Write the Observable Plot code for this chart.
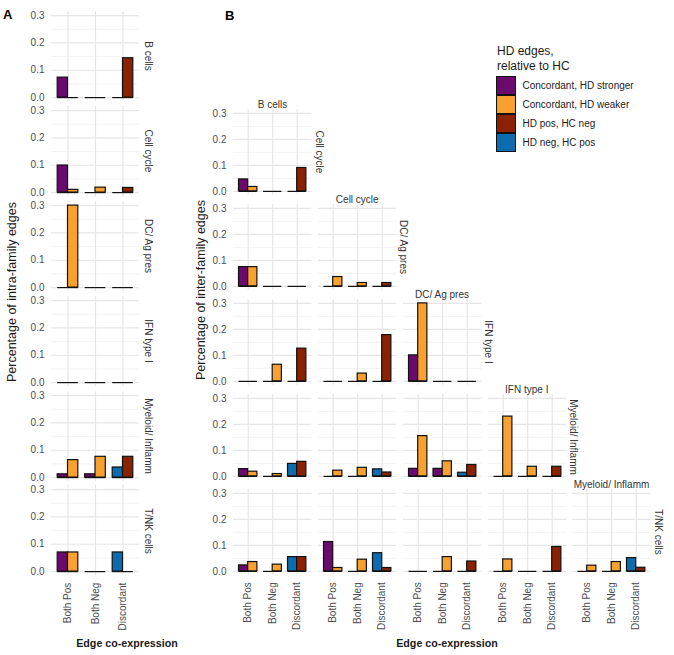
<!DOCTYPE html>
<html>
<head>
<meta charset="utf-8">
<script src="https://cdn.jsdelivr.net/npm/d3@7"></script>
<script src="https://cdn.jsdelivr.net/npm/@observablehq/plot@0.6"></script>
<style>
  html, body { margin: 0; padding: 0; background: #ffffff; }
  #fig { position: relative; width: 674px; height: 655px; overflow: hidden; background: #ffffff;
         font-family: "Liberation Sans", Arial, sans-serif; }
  .abs { position: absolute; }
  .txt { position: absolute; white-space: nowrap; line-height: 1; }
</style>
</head>
<body>
<div id="fig"></div>
<script>
// ---------------- data ----------------
const categories = ["Both Pos", "Both Neg", "Discordant"];
const families = ["B cells", "Cell cycle", "DC/ Ag pres", "IFN type I", "Myeloid/ Inflamm", "T/NK cells"];
const seriesNames = ["Concordant, HD stronger", "Concordant, HD weaker", "HD pos, HC neg", "HD neg, HC pos"];
const seriesColors = ["#6b0a6d", "#f9a12e", "#8a2202", "#0d6cae"];
// which series the left / right bar of each category belongs to
const leftSeries = [0, 0, 3];
const rightSeries = [1, 1, 2];
const yTicks = [0, 0.1, 0.2, 0.3];
const yMinorTicks = [0.05, 0.15, 0.25];

// Panel A: intra-family edges (one row per family; values per category)
const intraLeft = [
  [0.073, 0, 0],
  [0.099, 0, 0],
  [0, 0, 0],
  [0, 0, 0],
  [0.012, 0.012, 0.037],
  [0.070, 0, 0.070]
];
const intraRight = [
  [0, 0, 0.144],
  [0.010, 0.018, 0.017],
  [0.300, 0, 0],
  [0, 0, 0],
  [0.064, 0.076, 0.076],
  [0.070, 0, 0]
];

// Panel B: inter-family edges (row family index, column family index)
const interRows = [1, 2, 2, 3, 3, 3, 4, 4, 4, 4, 5, 5, 5, 5, 5];
const interCols = [0, 0, 1, 0, 1, 2, 0, 1, 2, 3, 0, 1, 2, 3, 4];
const interLeft = [
  [0.046, 0, 0],
  [0.074, 0, 0],
  [0, 0, 0],
  [0, 0, 0],
  [0, 0, 0],
  [0.100, 0, 0],
  [0.028, 0, 0.048],
  [0, 0, 0.027],
  [0.029, 0.029, 0.014],
  [0, 0, 0],
  [0.023, 0, 0.055],
  [0.113, 0, 0.070],
  [0, 0, 0],
  [0, 0, 0],
  [0, 0, 0.051]
];
const interRight = [
  [0.017, 0, 0.090],
  [0.074, 0, 0],
  [0.036, 0.013, 0.013],
  [0, 0.064, 0.126],
  [0, 0.030, 0.178],
  [0.300, 0, 0],
  [0.018, 0.009, 0.056],
  [0.022, 0.033, 0.015],
  [0.155, 0.058, 0.044],
  [0.230, 0.037, 0.037],
  [0.036, 0.026, 0.055],
  [0.013, 0.045, 0.013],
  [0, 0.055, 0.038],
  [0.046, 0, 0.094],
  [0.022, 0.036, 0.014]
];

// ---------------- layout ----------------
const FONT = '"Liberation Sans", Arial, sans-serif';
const fig = document.getElementById("fig");
const A = {left: 50.5, top: 10.9, w: 88, h: 90.2, pitch: 94.9};
const B = {left: 233.3, top: 109.1, w: 78.4, h: 85.8, colPitch: 84.75, rowPitch: 95};

function panel(leftVals, rightVals, px, py, pw, ph, showY, showX) {
  const rows = [];
  categories.forEach((c, i) => {
    rows.push({cat: c, side: "L", series: seriesNames[leftSeries[i]], value: leftVals[i]});
    rows.push({cat: c, side: "R", series: seriesNames[rightSeries[i]], value: rightVals[i]});
  });
  const ml = showY ? 40 : 0, mb = showX ? 70 : 0;
  const half = pw / 3.2 * 0.75 / 2;
  const svg = Plot.plot({
    width: pw + ml, height: ph + mb,
    marginLeft: ml, marginRight: 0, marginTop: 0, marginBottom: mb,
    style: {background: "transparent", overflow: "visible", color: "#4d4d4d",
            fontFamily: FONT, fontSize: "10px", maxWidth: "none"},
    x: {type: "band", domain: categories, paddingInner: 0.25, paddingOuter: 0.225, align: 0.5, round: false, axis: null},
    y: {domain: [-0.015, 0.315], axis: null},
    color: {domain: seriesNames, range: seriesColors},
    marks: [
      Plot.gridY(yMinorTicks, {stroke: "#eeeeee", strokeOpacity: 1, strokeWidth: 0.7}),
      Plot.gridY(yTicks, {stroke: "#e6e6e6", strokeOpacity: 1, strokeWidth: 1.2}),
      Plot.gridX(categories, {stroke: "#e6e6e6", strokeOpacity: 1, strokeWidth: 1.2}),
      showY ? Plot.axisY(yTicks, {tickSize: 0, tickPadding: 7, tickFormat: d3.format(".1f"), label: null, fontSize: 10}) : null,
      showX ? Plot.axisX(categories, {tickSize: 0, tickPadding: 7, tickRotate: -90, label: null, fontSize: 10}) : null,
      Plot.barY(rows.filter(d => d.side === "L"), {x: "cat", y: "value", fill: "series", stroke: "#111", strokeWidth: 1.2, insetRight: half}),
      Plot.barY(rows.filter(d => d.side === "R"), {x: "cat", y: "value", fill: "series", stroke: "#111", strokeWidth: 1.2, insetLeft: half}),
      Plot.tickY(categories, {x: d => d, y: () => 0, stroke: "#111", strokeWidth: 1.2})
    ].filter(Boolean)
  });
  const div = document.createElement("div");
  div.className = "abs";
  div.style.left = (px - ml) + "px";
  div.style.top = py + "px";
  div.appendChild(svg);
  fig.appendChild(div);
}

function addText(text, x, y, opts = {}) {
  const {size = 10, weight = "normal", color = "#1a1a1a", rotate = 0, align = "center"} = opts;
  const d = document.createElement("div");
  d.className = "txt";
  d.textContent = text;
  d.style.left = x + "px";
  d.style.top = y + "px";
  d.style.fontSize = size + "px";
  d.style.fontWeight = weight;
  d.style.color = color;
  const tx = align === "left" ? "0" : "-50%";
  d.style.transform = `translate(${tx}, -50%) rotate(${rotate}deg)`;
  fig.appendChild(d);
  return d;
}

// ---------------- panel A ----------------
families.forEach((f, i) => {
  const py = A.top + A.pitch * i;
  panel(intraLeft[i], intraRight[i], A.left, py, A.w, A.h, true, i === families.length - 1);
  addText(f, A.left + A.w + 9.5, py + A.h / 2, {rotate: 90, color: "#333"});
});

// ---------------- panel B ----------------
interRows.forEach((r, k) => {
  const c = interCols[k];
  const ri = r - 1;
  const px = B.left + B.colPitch * c;
  const py = B.top + B.rowPitch * ri;
  panel(interLeft[k], interRight[k], px, py, B.w, B.h, c === 0, ri === 4);
});
for (let r = 0; r < 5; r++) {
  // row strip (right of diagonal panel)
  addText(families[r + 1], B.left + B.colPitch * r + B.w + 7, B.top + B.rowPitch * r + B.h / 2, {rotate: 90, color: "#333"});
  // column strip (above diagonal panel)
  addText(families[r], B.left + B.colPitch * r + B.w / 2, B.top + B.rowPitch * r - 4.5, {color: "#333"});
}

// ---------------- titles ----------------
addText("A", 3, 14, {size: 13, weight: "bold", color: "#000", align: "left"});
addText("B", 225, 15, {size: 13, weight: "bold", color: "#000", align: "left"});
addText("Percentage of intra-family edges", 12, 292, {size: 12.5, rotate: -90, color: "#1a1a1a"});
addText("Percentage of inter-family edges", 201, 290, {size: 12.5, rotate: -90, color: "#1a1a1a"});
addText("Edge co-expression", 127, 643, {size: 10.7, weight: "bold", color: "#1a1a1a"});
addText("Edge co-expression", 447, 643, {size: 10.7, weight: "bold", color: "#1a1a1a"});

// ---------------- legend ----------------
addText("HD edges,", 497, 51, {size: 12, align: "left"});
addText("relative to HC", 497, 65.5, {size: 12, align: "left"});
seriesNames.forEach((s, i) => {
  const sw = document.createElement("div");
  sw.className = "abs";
  sw.style.left = "496px";
  sw.style.top = (76 + 19 * i) + "px";
  sw.style.width = "18px";
  sw.style.height = "17px";
  sw.style.background = seriesColors[i];
  sw.style.border = "1.2px solid #111";
  fig.appendChild(sw);
  addText(s, 522.5, 85.5 + 19 * i, {size: 10, align: "left", color: "#222"});
});
</script>
</body>
</html>
